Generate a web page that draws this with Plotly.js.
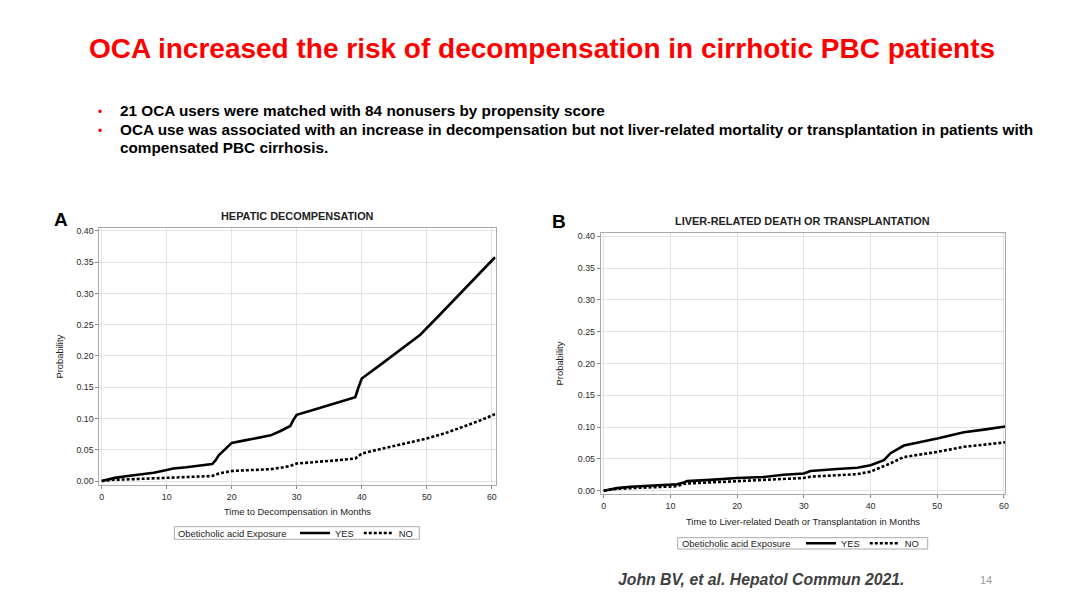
<!DOCTYPE html>
<html>
<head>
<meta charset="utf-8">
<script src="https://cdn.plot.ly/plotly-3.0.1.min.js"></script>
<style>
html,body{margin:0;padding:0;background:#fff;}
#chart{width:1080px;height:608px;}
</style>
</head>
<body>
<div id="chart"></div>
<script>
// ---------- Data ----------
const seriesNames = ["YES", "NO"];
const legendTitle = "Obeticholic acid Exposure";

// Panel A: Hepatic decompensation
const aYesMonths = [0, 1, 2, 4, 6, 8, 10, 11, 13, 15, 17, 17.5, 18, 19, 20, 22, 24, 26, 27.5, 29, 29.5, 30, 33, 36, 39, 39.5, 40, 43, 46, 49, 52, 55, 58, 60.5];
const aYesProb   = [0, 0.003, 0.005, 0.008, 0.0105, 0.0133, 0.0175, 0.02, 0.022, 0.0245, 0.027, 0.033, 0.041, 0.051, 0.061, 0.065, 0.069, 0.073, 0.080, 0.088, 0.098, 0.106, 0.115, 0.124, 0.134, 0.150, 0.164, 0.187, 0.210, 0.234, 0.266, 0.299, 0.331, 0.358];
const aNoMonths  = [0, 2, 5, 10, 15, 17, 18, 20, 23, 26, 28, 29, 30, 33, 36, 39, 40, 42, 45, 48, 50, 53, 56, 58, 60.5];
const aNoProb    = [0, 0.002, 0.003, 0.005, 0.007, 0.008, 0.012, 0.016, 0.0175, 0.019, 0.022, 0.024, 0.028, 0.030, 0.033, 0.036, 0.044, 0.049, 0.056, 0.063, 0.068, 0.077, 0.088, 0.096, 0.107];

// Panel B: Liver-related death or transplantation
const bYesMonths = [0, 2, 4, 8, 11, 12, 12.5, 16, 20, 24, 27, 30, 31, 35, 38, 40, 42, 43, 45, 50, 54, 57, 60.2];
const bYesProb   = [0, 0.004, 0.0063, 0.008, 0.010, 0.013, 0.015, 0.017, 0.020, 0.0215, 0.025, 0.027, 0.031, 0.034, 0.036, 0.040, 0.048, 0.059, 0.071, 0.082, 0.092, 0.096, 0.101];
const bNoMonths  = [0, 2, 4, 8, 11, 12, 16, 20, 24, 27, 30, 31, 35, 38, 40, 42, 43, 45, 50, 54, 57, 60.2];
const bNoProb    = [0, 0.003, 0.004, 0.0055, 0.007, 0.011, 0.013, 0.015, 0.016, 0.018, 0.020, 0.022, 0.024, 0.026, 0.030, 0.038, 0.043, 0.053, 0.061, 0.069, 0.072, 0.076];

// ---------- Text ----------
const pageTitle = "OCA increased the risk of decompensation in cirrhotic PBC patients";
const bullet1 = "21 OCA users were matched with 84 nonusers by propensity score";
const bullet2a = "OCA use was associated with an increase in decompensation but not liver-related mortality or transplantation in patients with";
const bullet2b = "compensated PBC cirrhosis.";
const panelATitle = "HEPATIC DECOMPENSATION";
const panelBTitle = "LIVER-RELATED DEATH OR TRANSPLANTATION";
const aXTitle = "Time to Decompensation in Months";
const bXTitle = "Time to Liver-related Death or Transplantation in Months";
const yTitle = "Probability";
const citation = "John BV, et al. Hepatol Commun 2021.";
const pageNo = "14";

// ---------- Helpers ----------
const W = 1080, H = 608;
const px = x => x / W;
const py = y => 1 - y / H;
const FONT = "Liberation Sans, Arial, Helvetica, sans-serif";

const yesLine = {color: "#000", width: 2.6, dash: "solid"};
const noLine  = {color: "#000", width: 2.6, dash: "3px,2px"};

const traces = [
  {x: aYesMonths, y: aYesProb, name: seriesNames[0], mode: "lines", line: yesLine, xaxis: "x", yaxis: "y", legend: "legend"},
  {x: aNoMonths,  y: aNoProb,  name: seriesNames[1], mode: "lines", line: noLine,  xaxis: "x", yaxis: "y", legend: "legend"},
  {x: bYesMonths, y: bYesProb, name: seriesNames[0], mode: "lines", line: yesLine, xaxis: "x2", yaxis: "y2", legend: "legend2"},
  {x: bNoMonths,  y: bNoProb,  name: seriesNames[1], mode: "lines", line: noLine,  xaxis: "x2", yaxis: "y2", legend: "legend2"}
];

const axisCommon = {
  showline: true, mirror: true, linecolor: "#a9a9a9", linewidth: 1,
  ticks: "outside", ticklen: 3, tickcolor: "#888", tickwidth: 1,
  showgrid: true, gridcolor: "#e2e2e2", gridwidth: 1,
  zeroline: false, fixedrange: true,
  tickfont: {family: FONT, size: 8.8, color: "#2a2a2a"}
};

function xAxis(domain, range, title, standoff, anchor) {
  return Object.assign({}, axisCommon, {
    domain: domain, range: range, anchor: anchor,
    tickvals: [0, 10, 20, 30, 40, 50, 60],
    title: {text: title, standoff: standoff, font: {family: FONT, size: 9.4, color: "#222"}}
  });
}
function yAxis(domain, range, standoff, anchor) {
  return Object.assign({}, axisCommon, {
    domain: domain, range: range, anchor: anchor,
    tickvals: [0, 0.05, 0.1, 0.15, 0.2, 0.25, 0.3, 0.35, 0.4],
    tickformat: ".2f",
    title: {text: yTitle, standoff: standoff, font: {family: FONT, size: 9.4, color: "#222"}}
  });
}

// Native legend entries placed inside a drawn legend frame
function legendCfg(xLeft, yc) {
  return {
    orientation: "h", x: px(xLeft), y: py(yc), xanchor: "left", yanchor: "middle",
    xref: "paper", yref: "paper",
    borderwidth: 0, bgcolor: "rgba(0,0,0,0)",
    font: {family: FONT, size: 9.4, color: "#222"},
    itemwidth: 30, tracegroupgap: 0, valign: "middle"
  };
}

const ann = (text, x, y, opts) => Object.assign({
  text: text, x: px(x), y: py(y), xref: "paper", yref: "paper",
  showarrow: false, xanchor: "left", yanchor: "middle",
  font: {family: FONT, size: 15.3, color: "#000"}
}, opts || {});

const annotations = [
  ann("<b>" + pageTitle + "</b>", 542, 48, {xanchor: "center", font: {family: FONT, size: 28, color: "#ff0000"}}),
  ann("•", 96, 111.5, {font: {family: FONT, size: 12, color: "#ff0000"}}),
  ann("•", 96, 130.5, {font: {family: FONT, size: 12, color: "#ff0000"}}),
  ann("<b>" + bullet1 + "</b>", 118, 110),
  ann("<b>" + bullet2a + "</b>", 118, 129),
  ann("<b>" + bullet2b + "</b>", 118, 147),
  ann("<b>A</b>", 61, 219, {xanchor: "center", font: {family: FONT, size: 19, color: "#000"}}),
  ann("<b>B</b>", 559, 222, {xanchor: "center", font: {family: FONT, size: 19, color: "#000"}}),
  ann("<b>" + panelATitle + "</b>", 297, 215.5, {xanchor: "center", font: {family: FONT, size: 10.9, color: "#222"}}),
  ann("<b>" + panelBTitle + "</b>", 802, 220.5, {xanchor: "center", font: {family: FONT, size: 10.9, color: "#222"}}),
  ann(legendTitle, 176, 533, {font: {family: FONT, size: 9.4, color: "#222"}}),
  ann(legendTitle, 679.5, 543.3, {font: {family: FONT, size: 9.4, color: "#222"}}),
  ann("<b><i>" + citation + "</i></b>", 616, 579, {font: {family: FONT, size: 15.8, color: "#404040"}}),
  ann(pageNo, 986, 579.5, {xanchor: "center", font: {family: FONT, size: 11, color: "#999"}})
];

const frame = (x0, y0, x1, y1) => ({
  type: "rect", xref: "paper", yref: "paper",
  x0: px(x0), x1: px(x1), y0: py(y1), y1: py(y0),
  line: {color: "#aaaaaa", width: 1}, fillcolor: "rgba(0,0,0,0)"
});

const layout = {
  width: W, height: H,
  margin: {l: 0, r: 0, t: 0, b: 0},
  paper_bgcolor: "#fff", plot_bgcolor: "#fff",
  showlegend: true,
  xaxis:  xAxis([px(99.3), px(495.7)], [-0.37, 60.6], aXTitle, 7, "y"),
  yaxis:  yAxis([py(485), py(228.3)], [-0.0064, 0.4043], 11, "x"),
  xaxis2: xAxis([px(600.7), px(1005.3)], [-0.45, 60.2], bXTitle, 8, "y2"),
  yaxis2: yAxis([py(494), py(233)], [-0.0052, 0.4052], 12, "x2"),
  legend:  legendCfg(295, 533),
  legend2: legendCfg(801, 543.3),
  shapes: [frame(174.3, 526.7, 419.3, 539.3), frame(677.7, 537.7, 927.7, 549)],
  annotations: annotations
};

Plotly.newPlot("chart", traces, layout, {displayModeBar: false, staticPlot: true});
</script>
</body>
</html>
